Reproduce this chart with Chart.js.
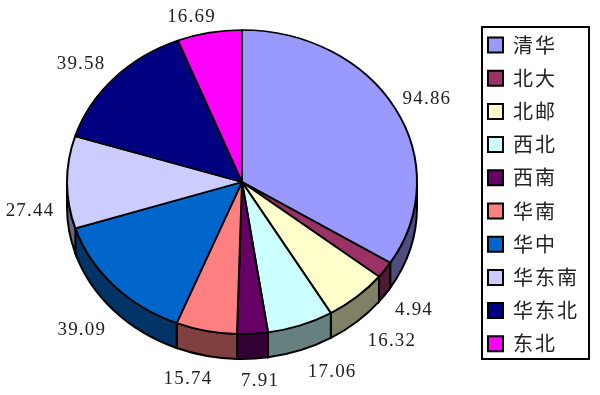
<!DOCTYPE html>
<html>
<head>
<meta charset="utf-8">
<script src="https://cdn.jsdelivr.net/npm/chart.js@4"></script>
<style>
  html, body { margin: 0; padding: 0; background: #fff; }
  canvas { display: block; }
</style>
</head>
<body>
<canvas id="myChart" width="600" height="395"></canvas>
<script>
const regions = ['清华', '北大', '北邮', '西北', '西南', '华南', '华中', '华东南', '华东北', '东北'];
const values = [94.86, 4.94, 16.32, 17.06, 7.91, 15.74, 39.09, 27.44, 39.58, 16.69];
const colors = ['#9999FF', '#993366', '#FFFFCC', '#CCFFFF', '#660066', '#FF8080', '#0066CC', '#CCCCFF', '#000080', '#FF00FF'];
const sideColors = ['#4D4D80', '#4D1A33', '#808066', '#668080', '#330033', '#804040', '#003366', '#666680', '#000040', '#800080'];

// the pie sits tilted: squashed ellipse plus a side wall
const center = { x: 242, y: 182 };
const squash = 152 / 175;
const depth = 25;
// small shifts so each value label lands where it does in the picture
const labelShift = [[9, 0], [8, 4], [18, 4], [23, 3], [6, 2], [-13, 4], [-13, 6], [-11, 4], [-14, -1], [-13, 4]];

const piePlugin = {
  id: 'tiltedPie',
  beforeDraw(chart) {
    chart.ctx.letterSpacing = '2px';
  },
  beforeDatasetsDraw(chart) {
    const ctx = chart.ctx;
    const arcs = chart.getDatasetMeta(0).data;
    const rx = arcs[0].outerRadius;
    const ry = rx * squash;
    ctx.save();
    ctx.lineWidth = 2;
    ctx.strokeStyle = '#000';
    arcs.forEach((arc, i) => {
      // only the front half of the rim can be seen
      const from = Math.max(arc.startAngle, 0);
      const to = Math.min(arc.endAngle, Math.PI);
      if (to <= from) return;
      ctx.beginPath();
      ctx.ellipse(center.x, center.y, rx, ry, 0, from, to);
      ctx.ellipse(center.x, center.y + depth, rx, ry, 0, to, from, true);
      ctx.closePath();
      ctx.fillStyle = sideColors[i];
      ctx.fill();
      ctx.stroke();
    });
    ctx.restore();
    ctx.save();
    ctx.translate(center.x, center.y);
    ctx.scale(1, squash);
    ctx.translate(-arcs[0].x, -arcs[0].y);
  },
  afterDatasetsDraw(chart) {
    chart.ctx.restore();
  },
  afterLayout(chart) {
    // legend placed by hand, the way it sits in the box
    const legend = chart.legend;
    legend.left = 474.8;
    legend.top = 21.8;
    legend.right = 600;
    legend.bottom = 395;
  },
  afterDraw(chart) {
    const ctx = chart.ctx;
    const arcs = chart.getDatasetMeta(0).data;
    const rx = arcs[0].outerRadius;
    const ry = rx * squash;
    ctx.letterSpacing = '0px';
    ctx.strokeStyle = '#000';
    ctx.lineWidth = 2;
    ctx.strokeRect(482, 27, 107, 332);

    ctx.save();
    ctx.font = '19px "Liberation Serif"';
    ctx.letterSpacing = '1.2px';
    ctx.fillStyle = '#222';
    ctx.textAlign = 'center';
    ctx.textBaseline = 'middle';
    arcs.forEach((arc, i) => {
      const mid = (arc.startAngle + arc.endAngle) / 2;
      const x = center.x + (rx + 26) * Math.cos(mid) + labelShift[i][0];
      const y = center.y + (ry + 20) * Math.sin(mid) + (Math.sin(mid) > 0 ? depth : 0) + labelShift[i][1];
      ctx.fillText(values[i].toFixed(2), x, y);
    });
    ctx.restore();
  }
};

const ctx = document.getElementById('myChart').getContext('2d');

const myChart = new Chart(ctx, {
  type: 'pie',
  data: {
    labels: regions,
    datasets: [{
      data: values,
      backgroundColor: colors,
      borderColor: '#000',
      borderWidth: 2
    }]
  },
  options: {
    responsive: false,
    animation: false,
    layout: { padding: { top: 10, bottom: 33, left: 0, right: 0 } },
    plugins: {
      tooltip: { enabled: false },
      legend: {
        position: 'right',
        align: 'start',
        labels: {
          boxWidth: 15,
          boxHeight: 15,
          padding: 13.2,
          color: '#222',
          font: { family: '"Noto Sans CJK SC"', size: 20, lineHeight: 1 }
        }
      }
    }
  },
  plugins: [piePlugin]
});
</script>
</body>
</html>
